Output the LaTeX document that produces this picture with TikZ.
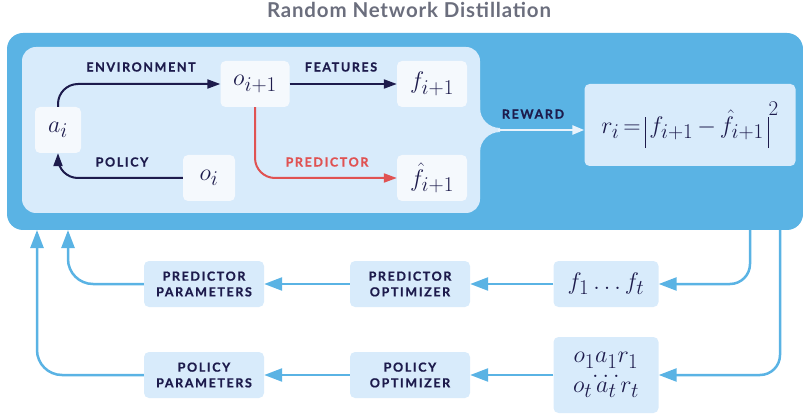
\RequirePackage{fix-cm}
\documentclass[tikz,border=0pt]{standalone}
\usepackage{fontspec}
\usetikzlibrary{arrows.meta}
\newfontfamily\lblfont[LetterSpace=13, BoldFeatures={FakeBold=0.8}]{Lato}
\newfontfamily\ttlfont[LetterSpace=4]{Lato}
\DeclareMathSizes{24}{24}{21}{16}
\definecolor{outerblue}{HTML}{5AB3E4}
\definecolor{panelblue}{HTML}{D8EBFB}
\definecolor{nodewhite}{HTML}{F5F9FD}
\definecolor{navy}{HTML}{1D1B4C}
\definecolor{predred}{HTML}{E05252}
\definecolor{titlegray}{HTML}{6B6E7D}
\newcommand{\absbar}{\rule[-15pt]{0.8pt}{31pt}}
\tikzset{
varbox/.style={fill=nodewhite, rounded corners=5pt, minimum width=#1, minimum height=46pt,
  inner sep=0pt, text=navy, font=\fontsize{24}{28}\selectfont},
varbox/.default=70pt,
seqbox/.style={varbox=#1, fill=panelblue},
seqbox/.default=105pt,
opbox/.style={fill=panelblue, rounded corners=5pt, minimum width=120pt, minimum height=46pt,
  inner sep=0pt, text=navy, align=center, font=\lblfont\bfseries\fontsize{12.5}{15.7}\selectfont},
lbl/.style={text=navy, font=\lblfont\bfseries\fontsize{12.5}{15}\selectfont},
navyarrow/.style={draw=navy, line width=2pt, -{Triangle[length=13pt,width=9pt]}},
redarrow/.style={draw=predred, line width=2pt, -{Triangle[length=13pt,width=9pt]}},
feedarrow/.style={draw=outerblue, line width=2.5pt, -{Triangle[length=18pt,width=13pt]}}
}
\begin{document}
\begin{tikzpicture}[x=1pt,y=1pt]
\useasboundingbox (0,0) rectangle (803,-414);
\node[text=titlegray, font=\ttlfont\bfseries\fontsize{20.5}{22}\selectfont] (title) at (409,-10) {Random Network Distillation};
\fill[outerblue, rounded corners=16pt] (7,-33) rectangle (803,-230);
\fill[panelblue, rounded corners=14pt] (22,-47) rectangle (480,-213);
\fill[panelblue] (470,-100) -- (480,-100) -- (480,-108) arc[start angle=180,end angle=270,radius=20]
  -- (500,-132) arc[start angle=90,end angle=180,radius=20] -- (480,-160) -- (470,-160) -- cycle;
\node[varbox=46pt] (a) at (58,-130) {$a_i$};
\node[varbox=69pt] (onext) at (255,-84) {$o_{i+1}$};
\node[varbox] (fnext) at (432,-84) {$f_{i+1}$};
\node[varbox=52pt] (ocur) at (209,-178) {$o_i$};
\node[varbox] (fhat) at (432,-178) {$\hat{f}_{i+1}$};
\node[varbox=211pt, fill=panelblue, minimum height=82pt] (r) at (690,-125) {$r_i\,{=}\,\absbar\,f_{i+1}\,{-}\,\hat{f}_{i+1}\,\absbar^{\raisebox{9pt}{$\scriptstyle 2$}}$};
\draw[navyarrow, rounded corners=20pt] (a.north) |- (onext.west);
\node[lbl] (envlbl) at (141,-67) {ENVIRONMENT};
\draw[navyarrow] (onext) -- (fnext);
\node[lbl] (featlbl) at (341,-67) {FEATURES};
\draw[redarrow, rounded corners=20pt] (onext.south) |- (fhat.west);
\node[lbl, text=predred] (predlbl) at (327,-162) {PREDICTOR};
\draw[navyarrow, rounded corners=20pt] (ocur.west) -| (a.south);
\node[lbl] (pollbl) at (122,-162) {POLICY};
\coordinate (neck) at (498,-130);
\draw[draw=nodewhite!60!panelblue, line width=2.5pt, -{Triangle[length=12pt,width=9pt]}] (neck) -- (neck -| r.west);
\node[lbl] (rewardlbl) at (533,-114) {REWARD};
\node[seqbox] (fseq) at (606,-284) {$f_1\ldots f_t$};
\node[opbox] (popt) at (410,-284) {PREDICTOR\\OPTIMIZER};
\node[opbox] (ppar) at (204,-284) {PREDICTOR\\PARAMETERS};
\node[seqbox, minimum height=76pt, align=center, font=\fontsize{24}{15}\selectfont] (oseq) at (606,-375) {$o_1a_1r_1$\\$.\,.\,.$\\$o_t\,a_t\,r_t$};
\node[opbox] (qopt) at (410,-375) {POLICY\\OPTIMIZER};
\node[opbox] (qpar) at (204,-375) {POLICY\\PARAMETERS};
\coordinate (tapA) at (750,-230);
\coordinate (tapB) at (780,-230);
\coordinate (backA) at (68,-230);
\coordinate (backB) at (37,-230);
\draw[feedarrow, rounded corners=20pt] (tapA) |- (fseq.east);
\draw[feedarrow, rounded corners=20pt] (tapB) |- (oseq.east);
\draw[feedarrow] (fseq) -- (popt);
\draw[feedarrow] (popt) -- (ppar);
\draw[feedarrow] (oseq) -- (qopt);
\draw[feedarrow] (qopt) -- (qpar);
\draw[feedarrow, rounded corners=25pt] (ppar.west) -| (backA);
\draw[feedarrow, rounded corners=25pt] (qpar.west) -| (backB);
\end{tikzpicture}
\end{document}
